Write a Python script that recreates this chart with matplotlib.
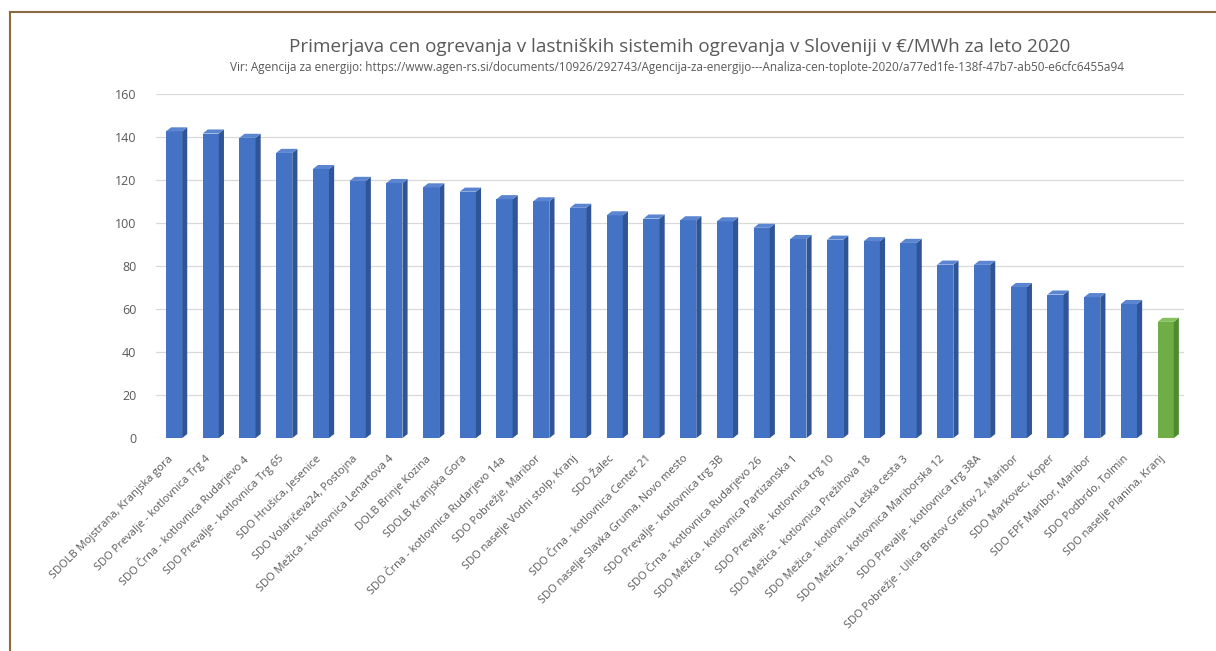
"""Primerjava cen ogrevanja v lastniskih sistemih - stolpicni graf"""
import matplotlib.pyplot as plt
import matplotlib.transforms as mtransforms
from matplotlib.lines import Line2D
import numpy as np

sistemi = [
    'SDOLB Mojstrana, Kranjska gora',
    'SDO Prevalje - kotlovnica Trg 4',
    'SDO Črna - kotlovnica Rudarjevo 4',
    'SDO Prevalje - kotlovnica Trg 65',
    'SDO Hrušica, Jesenice',
    'SDO Volaričeva24, Postojna',
    'SDO Mežica - kotlovnica Lenartova 4',
    'DOLB Brinje Kozina',
    'SDOLB Kranjska Gora',
    'SDO Črna - kotlovnica Rudarjevo 14a',
    'SDO Pobrežje, Maribor',
    'SDO naselje Vodni stolp, Kranj',
    'SDO Žalec',
    'SDO Črna - kotlovnica Center 21',
    'SDO naselje Slavka Gruma, Novo mesto',
    'SDO Prevalje - kotlovnica trg 3B',
    'SDO Črna - kotlovnica Rudarjevo 26',
    'SDO Mežica - kotlovnica Partizanska 1',
    'SDO Prevalje - kotlovnica trg 10',
    'SDO Mežica - kotlovnica Prežihova 18',
    'SDO Mežica - kotlovnica Leška cesta 3',
    'SDO Mežica - kotlovnica Mariborska 12',
    'SDO Prevalje - kotlovnica trg 38A',
    'SDO Pobrežje - Ulica Bratov Greifov 2, Maribor',
    'SDO Markovec, Koper',
    'SDO EPF Maribor, Maribor',
    'SDO Podbrdo, Tolmin',
    'SDO naselje Planina, Kranj',
]
cene = [142.5, 141.5, 139.5, 132.5, 125, 119.5, 118.5, 116.5, 114.5,
        111, 110, 107, 103.5, 102, 101.2, 100.7, 97.7, 92.5, 92.2, 91.5,
        90.7, 80.6, 80.5, 70.2, 66.7, 65.5, 62.3, 54]
poudarjen = 'SDO naselje Planina, Kranj'

MODRA = '#4472C4'
MODRA_STRAN = '#2F5597'
MODRA_VRH = '#5B85D0'
ZELENA = '#70AD47'
ZELENA_STRAN = '#4E8A2E'
ZELENA_VRH = '#86C05F'
SIVA = '#595959'

plt.rcParams['font.family'] = ['Open Sans', 'DejaVu Sans']

fig = plt.figure(figsize=(12.16, 6.51), dpi=100)
ax = fig.add_axes([0.128, 0.327, 0.8457, 0.529])

x = np.arange(len(sistemi))
w = 0.44          # sirina sprednje ploskve
d = 0.14          # globina (vodoravno)
dy = 1.9          # globina (navpicno)

for i, (ime, v) in enumerate(zip(sistemi, cene)):
    if ime == poudarjen:
        c, cs, ct = ZELENA, ZELENA_STRAN, ZELENA_VRH
    else:
        c, cs, ct = MODRA, MODRA_STRAN, MODRA_VRH
    ax.bar(i, v, width=w, color=c, zorder=3)
    desno = i + w / 2
    levo = i - w / 2
    # stranska ploskev
    ax.fill([desno, desno + d, desno + d, desno],
            [0, dy, v + dy, v], color=cs, zorder=3, lw=0)
    # zgornja ploskev
    ax.fill([levo, levo + d, desno + d, desno],
            [v, v + dy, v + dy, v], color=ct, zorder=3, lw=0)

ax.set_xlim(-0.5, len(sistemi) - 0.5)
ax.set_ylim(0, 160)
ax.set_yticks(np.arange(0, 161, 20))
ax.yaxis.grid(True, color='#D9D9D9', lw=0.9, zorder=0)
ax.set_axisbelow(True)
for s in ax.spines.values():
    s.set_visible(False)
ax.tick_params(axis='both', length=0, colors=SIVA, labelsize=9)
ax.tick_params(axis='y', pad=14)
ax.tick_params(axis='x', pad=11)
ax.set_xticks(x)
ax.set_xticklabels(sistemi, rotation=45, ha='right', rotation_mode='anchor',
                   fontsize=8, color=SIVA)
# oznake malo v levo, kot v izvirniku
zamik = mtransforms.ScaledTranslation(-6 / 100, 0, fig.dpi_scale_trans)
for lbl in ax.get_xticklabels():
    lbl.set_transform(lbl.get_transform() + zamik)

fig.text(0.559, 0.928, 'Primerjava cen ogrevanja v lastniških sistemih ogrevanja '
         'v Sloveniji v €/MWh za leto 2020', ha='center', va='center',
         fontsize=13.6, color=SIVA)
fig.text(0.557, 0.896, 'Vir: Agencija za energijo: https://www.agen-rs.si/documents/'
         '10926/292743/Agencija-za-energijo---Analiza-cen-toplote-2020/'
         'a77ed1fe-138f-47b7-ab50-e6cfc6455a94', ha='center', va='center',
         fontsize=8.5, color=SIVA)

# okvir (levi in zgornji rob)
fig.add_artist(Line2D([0.0083, 0.0083], [0.0, 0.9816], color='#8B6A3E', lw=1.5))
fig.add_artist(Line2D([0.0083, 1.0], [0.9816, 0.9816], color='#8B6A3E', lw=1.5))

plt.savefig('out.png', dpi=100)
